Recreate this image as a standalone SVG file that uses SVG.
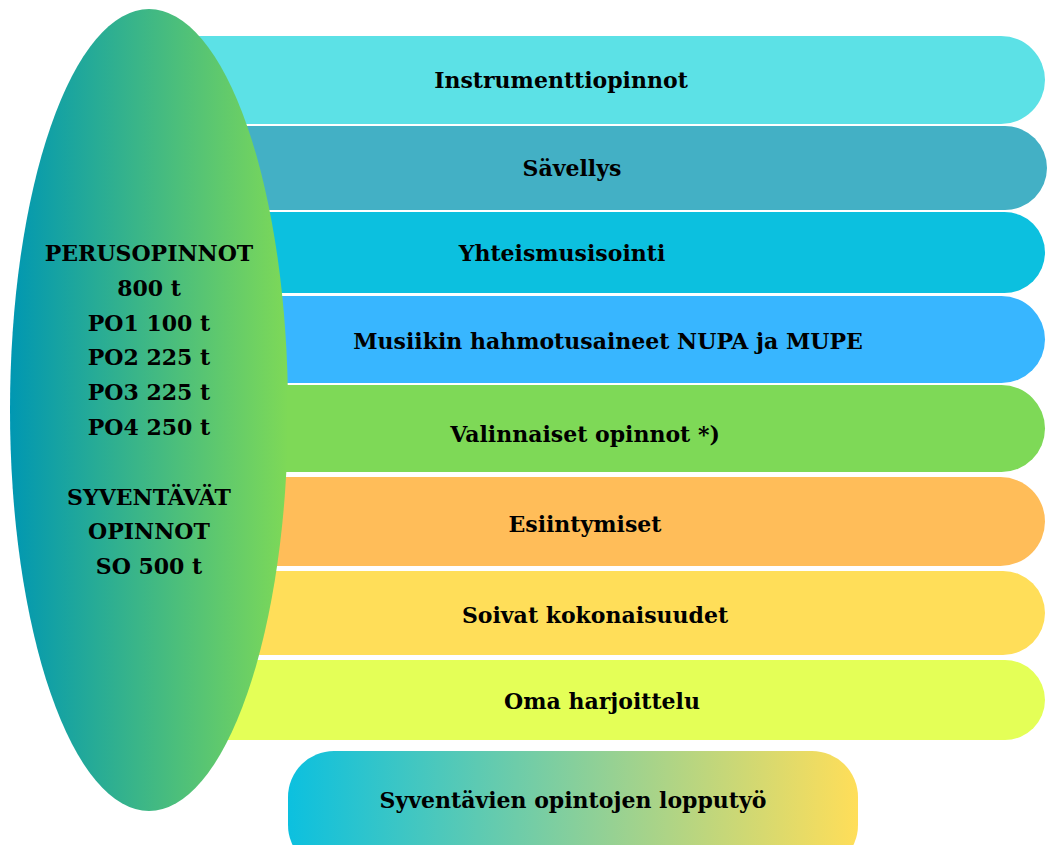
<svg xmlns="http://www.w3.org/2000/svg" width="1047" height="845" viewBox="0 0 1047 845">
<defs>
<linearGradient id="gEll" x1="0" y1="0" x2="1" y2="0">
<stop offset="0" stop-color="#0097B2"/>
<stop offset="1" stop-color="#7ED957"/>
</linearGradient>
<linearGradient id="gBox" x1="0" y1="0" x2="1" y2="0">
<stop offset="0" stop-color="#0CC0DF"/>
<stop offset="1" stop-color="#FFDE59"/>
</linearGradient>
<style>
text{font-family:"DejaVu Serif","Liberation Serif",serif;font-weight:bold;font-size:22px;fill:#000;text-anchor:middle}
</style>
</defs>
<rect width="1047" height="845" fill="#fff"/>
<g id="bar-instrumenttiopinnot">
<path d="M150 36H1001A44 44 0 0 1 1001 124H150Z" fill="#5CE1E6"/>
<text x="561" y="88">Instrumenttiopinnot</text>
</g>
<g id="bar-savellys">
<path d="M150 126H1005A42 42 0 0 1 1005 210H150Z" fill="#43B0C5"/>
<text x="572" y="176">Sävellys</text>
</g>
<g id="bar-yhteismusisointi">
<path d="M150 212H1004.5A40.5 40.5 0 0 1 1004.5 293H150Z" fill="#0CC0DF"/>
<text x="562" y="261">Yhteismusisointi</text>
</g>
<g id="bar-musiikin">
<path d="M150 296H1001.5A43.5 43.5 0 0 1 1001.5 383H150Z" fill="#38B6FF"/>
<text x="608" y="349">Musiikin hahmotusaineet NUPA ja MUPE</text>
</g>
<g id="bar-valinnaiset">
<path d="M150 385H1001.5A43.5 43.5 0 0 1 1001.5 472H150Z" fill="#7ED957"/>
<text x="585" y="442">Valinnaiset opinnot *)</text>
</g>
<g id="bar-esiintymiset">
<path d="M150 477H1000.5A44.5 44.5 0 0 1 1000.5 566H150Z" fill="#FFBD59"/>
<text x="585" y="532">Esiintymiset</text>
</g>
<g id="bar-soivat">
<path d="M150 571H1003A42 42 0 0 1 1003 655H150Z" fill="#FFDE59"/>
<text x="595" y="623">Soivat kokonaisuudet</text>
</g>
<g id="bar-oma">
<path d="M150 660H1005A40 40 0 0 1 1005 740H150Z" fill="#E4FF57"/>
<text x="602" y="709">Oma harjoittelu</text>
</g>
<g id="ellipse-opinnot">
<ellipse cx="149" cy="410" rx="139" ry="401" fill="url(#gEll)"/>
<text x="149" y="261">PERUSOPINNOT</text>
<text x="149" y="295.8">800 t</text>
<text x="149" y="330.6">PO1 100 t</text>
<text x="149" y="365.4">PO2 225 t</text>
<text x="149" y="400.2">PO3 225 t</text>
<text x="149" y="435">PO4 250 t</text>
<text x="149" y="504.6">SYVENTÄVÄT</text>
<text x="149" y="539.4">OPINNOT</text>
<text x="149" y="574.2">SO 500 t</text>
</g>
<g id="box-lopputyo">
<rect x="288" y="751" width="570" height="120" rx="46" fill="url(#gBox)"/>
<text x="573" y="808">Syventävien opintojen lopputyö</text>
</g>
</svg>
